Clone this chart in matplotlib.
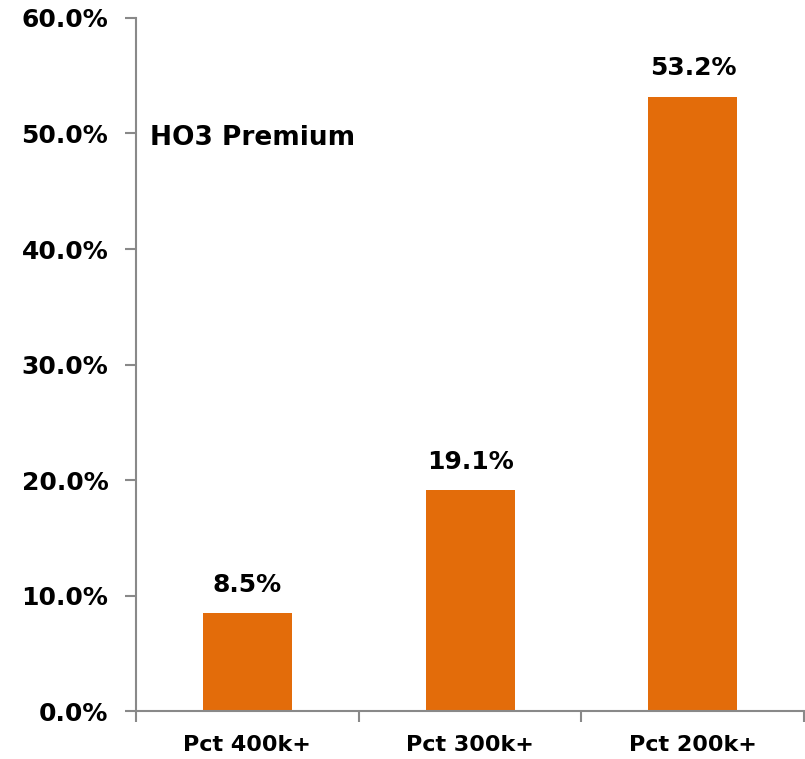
import numpy as np
import matplotlib.pyplot as plt
from matplotlib.ticker import FixedLocator

# Share of premium by threshold
categories = ['Pct 400k+', 'Pct 300k+', 'Pct 200k+']
values = [8.5, 19.1, 53.2]
y_ticks = [0, 10, 20, 30, 40, 50, 60]

bar_color = '#E36C0A'
axis_color = '#898989'

plt.rcParams['font.family'] = 'DejaVu Sans'
plt.rcParams['font.weight'] = 'bold'

fig = plt.figure(figsize=(8.05, 7.59), dpi=100)
ax = fig.add_axes([0.169, 0.0632, 0.830, 0.9131])

x = np.arange(len(categories))
bars = ax.bar(x, values, width=0.40, color=bar_color, zorder=2)

for xi, v in zip(x, values):
    ax.text(xi, v + 1.4, f'{v:.1f}%', ha='center', va='bottom',
            fontsize=18, fontweight='bold', color='black')

ax.text(0.021, 0.827, 'HO3 Premium', transform=ax.transAxes, ha='left',
        va='center', fontsize=19, fontweight='bold', color='black')

ax.set_xlim(-0.5, len(categories) - 0.5)
ax.set_ylim(0, 60)
ax.set_yticks(y_ticks)
ax.set_yticklabels([f'{t:.1f}%' for t in y_ticks])
ax.set_xticks(x)
ax.set_xticklabels(categories)
ax.xaxis.set_minor_locator(FixedLocator(np.arange(-0.5, len(categories), 1.0)))

ax.tick_params(axis='y', length=8, width=1.5, color=axis_color, pad=12,
               labelsize=18)
ax.tick_params(axis='x', which='major', length=0, pad=17, labelsize=16)
ax.tick_params(axis='x', which='minor', length=8, width=1.5, color=axis_color)

for lbl in ax.get_xticklabels() + ax.get_yticklabels():
    lbl.set_fontweight('bold')

for side in ['top', 'right']:
    ax.spines[side].set_visible(False)
for side in ['left', 'bottom']:
    ax.spines[side].set_color(axis_color)
    ax.spines[side].set_linewidth(1.5)

fig.savefig('out.png', dpi=100)
